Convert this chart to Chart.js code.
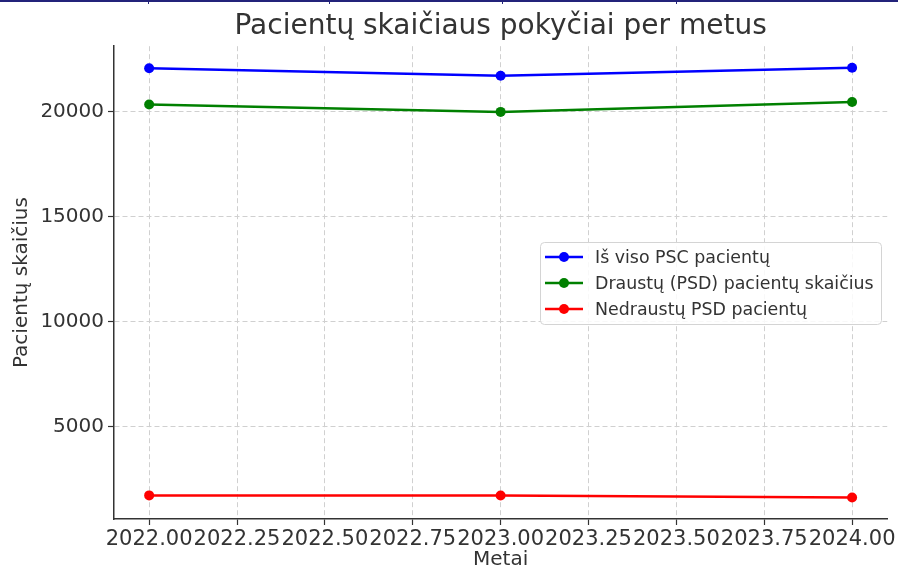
<!DOCTYPE html>
<html>
<head>
  <meta charset="utf-8">
  <title>Pacientų skaičiaus pokyčiai per metus</title>
  <script src="https://cdn.jsdelivr.net/npm/chart.js"></script>
  <style>
    body {
      margin: 0;
      background: white;
    }
    #wrap {
      width: 898px;
      height: 568px;
    }
  </style>
</head>
<body>
  <div id="wrap"><canvas id="chartCanvas" width="898" height="568"></canvas></div>

  <script>
    // data
    const years = [2022, 2023, 2024];
    const totalPatients = [22080, 21725, 22105];
    const insuredPatients = [20350, 20000, 20475];
    const uninsuredPatients = [1730, 1725, 1630];

    const seriesNames = ['Iš viso PSC pacientų', 'Draustų (PSD) pacientų skaičius', 'Nedraustų PSD pacientų'];
    const seriesColors = ['#0000ff', '#008000', '#ff0000'];

    const xTicks = [2022, 2022.25, 2022.5, 2022.75, 2023, 2023.25, 2023.5, 2023.75, 2024];
    const yTicks = [5000, 10000, 15000, 20000];

    const textColor = '#333333';
    Chart.defaults.font.family = "'DejaVu Sans', sans-serif";
    Chart.defaults.color = textColor;

    function toPoints(values) {
      return years.map((x, i) => ({ x: x, y: values[i] }));
    }

    const allSeries = [totalPatients, insuredPatients, uninsuredPatients];
    const datasets = allSeries.map((vals, i) => ({
      label: seriesNames[i],
      data: toPoints(vals),
      borderColor: seriesColors[i],
      backgroundColor: seriesColors[i],
      borderWidth: 2.5,
      pointRadius: 5,
      pointHoverRadius: 5,
      pointBorderWidth: 0,
      tension: 0
    }));

    // matplotlib style legend box + top border strip
    const legendBox = {
      id: 'legendBox',
      afterDraw(chart) {
        const ctx = chart.ctx;
        ctx.save();
        // strip at the very top of the screenshot
        ctx.fillStyle = '#23237a';
        ctx.fillRect(0, 0, 898, 2);
        [148, 329, 502, 676].forEach(x => ctx.fillRect(x, 0, 1, 4));

        const x0 = 540, y0 = 242, w = 341, h = 82;
        ctx.beginPath();
        ctx.roundRect(x0 + 0.5, y0 + 0.5, w, h, 4);
        ctx.fillStyle = 'rgba(255,255,255,0.85)';
        ctx.fill();
        ctx.strokeStyle = '#d4d4d4';
        ctx.lineWidth = 1;
        ctx.stroke();

        ctx.font = "17.4px 'DejaVu Sans'";
        ctx.textBaseline = 'middle';
        chart.data.datasets.forEach((ds, i) => {
          const y = 257 + i * 26;
          ctx.strokeStyle = ds.borderColor;
          ctx.lineWidth = 2.5;
          ctx.beginPath();
          ctx.moveTo(545, y);
          ctx.lineTo(583, y);
          ctx.stroke();
          ctx.fillStyle = ds.borderColor;
          ctx.beginPath();
          ctx.arc(564, y, 5, 0, Math.PI * 2);
          ctx.fill();
          ctx.fillStyle = textColor;
          ctx.fillText(ds.label, 595, y + 1);
        });
        ctx.restore();
      }
    };

    new Chart(document.getElementById('chartCanvas'), {
      type: 'line',
      data: { datasets: datasets },
      plugins: [legendBox],
      options: {
        responsive: false,
        animation: false,
        devicePixelRatio: 1,
        layout: { padding: { left: 0, right: 10, top: 0, bottom: 0 } },
        plugins: {
          legend: { display: false },
          tooltip: { enabled: false },
          title: {
            display: true,
            text: 'Pacientų skaičiaus pokyčiai per metus',
            fullSize: false,
            color: textColor,
            font: { size: 28, weight: 'normal', lineHeight: 1.15 },
            padding: { top: 11, bottom: 3 }
          }
        },
        scales: {
          x: {
            type: 'linear',
            min: 2021.9,
            max: 2024.1,
            afterBuildTicks(scale) {
              scale.ticks = xTicks.map(v => ({ value: v }));
            },
            afterFit(scale) {
              scale.height = 49;
            },
            ticks: {
              autoSkip: false,
              maxRotation: 0,
              minRotation: 0,
              padding: 2,
              color: textColor,
              font: { size: 21 },
              callback: v => Number(v).toFixed(2)
            },
            grid: {
              color: '#d0d0d0',
              lineWidth: 1,
              tickColor: '#333333',
              tickLength: 6,
              tickWidth: 1.2
            },
            border: { display: true, color: '#333333', width: 1.5, dash: [5, 3] },
            title: {
              display: true,
              text: 'Metai',
              color: textColor,
              font: { size: 20, lineHeight: 0.8 },
              padding: { top: 0, bottom: 0 }
            }
          },
          y: {
            min: 606,
            max: 23129,
            afterBuildTicks(scale) {
              scale.ticks = yTicks.map(v => ({ value: v }));
            },
            afterFit(scale) {
              scale.width = 114;
            },
            ticks: {
              padding: 4,
              color: textColor,
              font: { size: 20 },
              callback: v => String(v)
            },
            grid: {
              color: '#d0d0d0',
              lineWidth: 1,
              tickColor: '#333333',
              tickLength: 6,
              tickWidth: 1.2
            },
            border: { display: true, color: '#333333', width: 1.5, dash: [5, 3] },
            title: {
              display: true,
              text: 'Pacientų skaičius',
              color: textColor,
              font: { size: 20, lineHeight: 1.2 },
              padding: { top: 10, bottom: 0 }
            }
          }
        }
      }
    });
  </script>
</body>
</html>
